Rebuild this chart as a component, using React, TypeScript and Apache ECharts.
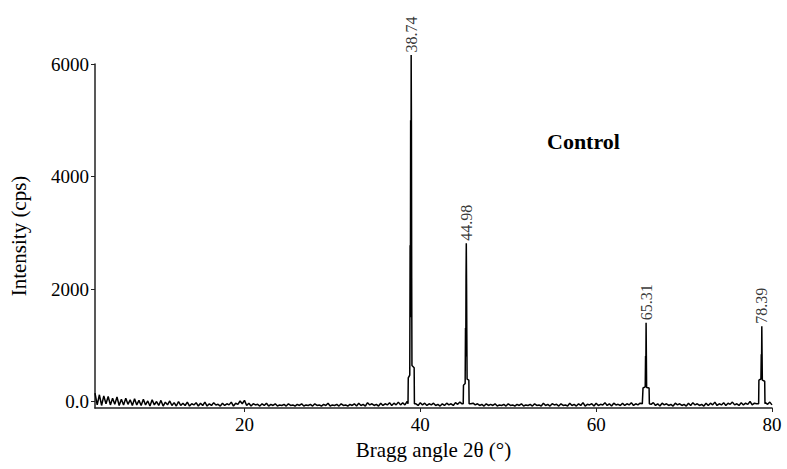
import React, { useEffect, useRef } from "react";
import * as echarts from "echarts";

const xMin = 3;
const xMax = 80;
const yMin = -115;
const yMax = 6000;
const xTicks = [20, 40, 60, 80];
const yTicks = [0, 2000, 4000, 6000];

// background counts sampled every 0.25 degrees from 3.0 to 80.0
const bgStart = 3;
const bgStep = 0.25;
const background = [
  150, -60, 120, -70, 100, -40, 90, -60, 60, -50, 80, -70, 40, -60, 60, -50, 30, -70, 50, -60,
  20, -70, 40, -60, 10, -80, 30, -60, 0, -70, 20, -80, -10, -60, 10, -70, -20, -80, 0, -70,
  -30, -70, -10, -80, -40, -60, -20, -80, -30, -70, -10, -80, -40, -70, -20, -60, -50, -80, -30, -70,
  -40, -60, -10, -80, -30, -50, 10, -40, 20, -70, -30, -80, -40, -60, -50, -80, -40, -70, -30, -80,
  -50, -70, -40, -80, -60, -70, -50, -80, -40, -70, -60, -80, -50, -70, -40, -80, -60, -70, -50, -80,
  -40, -70, -60, -80, -50, -70, -30, -80, -60, -70, -50, -80, -40, -70, -60, -80, -50, -70, -40, -80,
  -30, -70, -50, -80, -20, -60, -40, -70, -50, -80, -30, -70, -40, -60, -20, -70, -30, -60, -10, -60,
  -20, -60, 0, 0, 0, 0, -40, -70, -20, -60, -30, -70, -40, -60, -30, -70, -50, -80, -40, -70,
  -30, -60, -40, -70, -20, -50, -10, -40, 0, 0, 0, -40, -30, -60, -40, -70, -50, -80, -40, -70,
  -50, -70, -40, -80, -60, -70, -50, -80, -40, -70, -60, -80, -50, -70, -40, -80, -60, -70, -50, -80,
  -40, -70, -60, -80, -30, -70, -50, -80, -40, -60, -50, -80, -40, -70, -60, -80, -30, -70, -50, -80,
  -40, -70, -20, -80, -50, -60, -40, -80, -30, -70, -50, -60, -20, -70, -40, -80, -30, -60, -50, -70,
  -30, -70, -40, -60, -20, -70, -40, -60, -30, -40, 0, 0, 0, -50, -20, -70, -40, -80, -30, -60,
  -40, -70, -50, -80, -30, -60, -40, -70, -50, -80, -30, -70, -20, -60, -40, -70, -50, -80, -30, -70,
  -30, -60, -10, -70, -40, -60, -20, -70, -30, -50, -10, -60, -40, -70, -20, -60, -30, -50, 0, -60,
  -30, -40, 0, 0, 0, -20, -50, -10, -60,
];

const peak1 = [
  [38.6, -40], [38.63, 420], [38.8, 470], [38.84, 2780], [38.87, 1500], [38.9, 5000],
  [38.93, 2600], [38.96, 6160], [38.99, 4900], [39.02, 2200], [39.05, 640], [39.3, 600], [39.33, -40],
];
const peak2 = [
  [44.88, -40], [44.91, 290], [45.1, 320], [45.14, 1305], [45.17, 800], [45.2, 2195],
  [45.23, 2815], [45.26, 2100], [45.29, 1200], [45.32, 400], [45.52, 380], [45.55, -40],
];
const peak3 = [
  [65.3, -40], [65.33, 240], [65.58, 260], [65.62, 810], [65.65, 500], [65.68, 1400],
  [65.71, 800], [65.74, 250], [66.02, 240], [66.05, -40],
];
const peak4 = [
  [78.48, -40], [78.51, 380], [78.74, 400], [78.78, 840], [78.81, 600], [78.84, 1340],
  [78.87, 850], [78.9, 380], [79.17, 360], [79.2, -40],
];
const peakLabels = ["38.74", "44.98", "65.31", "78.39"];

const SERIF = "'Liberation Serif', 'DejaVu Serif', serif";

export default function App() {
  const ref = useRef<HTMLDivElement>(null);
  useEffect(() => {
    if (!ref.current) return;
    const chart = echarts.init(ref.current, null, { renderer: "svg" });
    const peaks = [peak1, peak2, peak3, peak4];
    const bgPoints: number[][] = background
      .map((v, i) => [bgStart + i * bgStep, v])
      .filter(([x]) => !peaks.some((p) => x >= p[0][0] && x <= p[p.length - 1][0]));
    const lineData = bgPoints.concat(...peaks).sort((a, b) => a[0] - b[0]);
    const labelData = peaks.map((p, i) => {
      const top = p.reduce((m, q) => (q[1] > m[1] ? q : m), p[0]);
      return { name: peakLabels[i], value: [top[0], top[1]] };
    });
    chart.setOption({
      animation: false,
      backgroundColor: "#ffffff",
      grid: { left: 93, right: 15, top: 64, bottom: 61 },
      xAxis: {
        type: "value",
        min: xMin,
        max: xMax,
        name: "Bragg angle 2θ (°)",
        nameLocation: "middle",
        nameGap: 31,
        nameTextStyle: { fontFamily: SERIF, fontSize: 21, color: "#000" },
        axisLine: { show: true, onZero: false, lineStyle: { color: "#222", width: 1.5 } },
        axisTick: { show: true, length: 4, customValues: xTicks, lineStyle: { color: "#222" } },
        axisLabel: {
          customValues: xTicks,
          fontFamily: SERIF,
          fontSize: 19,
          color: "#000",
          margin: 7,
        },
        splitLine: { show: false },
      },
      yAxis: {
        type: "value",
        min: yMin,
        max: yMax,
        name: "Intensity (cps)",
        nameLocation: "middle",
        nameGap: 66,
        nameTextStyle: { fontFamily: SERIF, fontSize: 21, color: "#000" },
        axisLine: { show: true, onZero: false, lineStyle: { color: "#222", width: 1.5 } },
        axisTick: { show: true, length: 4, customValues: yTicks, lineStyle: { color: "#222" } },
        axisLabel: {
          customValues: yTicks,
          formatter: (v: number) => (v === 0 ? "0.0" : String(v)),
          fontFamily: SERIF,
          fontSize: 19,
          color: "#000",
          margin: 6,
        },
        splitLine: { show: false },
      },
      series: [
        {
          type: "line",
          data: lineData,
          showSymbol: false,
          symbol: "none",
          clip: false,
          lineStyle: { color: "#000", width: 1.5 },
        },
        {
          type: "scatter",
          data: labelData,
          symbolSize: 1,
          clip: false,
          itemStyle: { color: "rgba(0,0,0,0)" },
          label: {
            show: true,
            formatter: "{b}",
            position: "top",
            rotate: 90,
            align: "left",
            verticalAlign: "middle",
            distance: 2,
            fontFamily: SERIF,
            fontSize: 16,
            color: "#000",
          },
        },
      ],
      graphic: [
        {
          type: "text",
          left: 547,
          top: 130,
          style: {
            text: "Control",
            font: `bold 22px ${SERIF}`,
            fill: "#000",
          },
        },
      ],
    });
    return () => chart.dispose();
  }, []);
  return (
    <div
      ref={ref}
      style={{ position: "fixed", left: 0, top: 0, width: 787, height: 469 }}
    />
  );
}
